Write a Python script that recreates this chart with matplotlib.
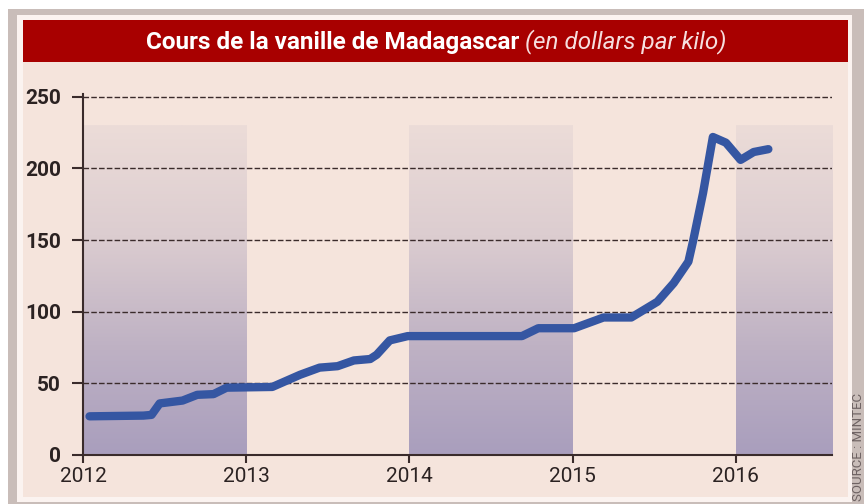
import matplotlib
matplotlib.use("Agg")
import matplotlib.pyplot as plt
import numpy as np
from matplotlib.patches import Rectangle
from matplotlib.colors import LinearSegmentedColormap

# données (année décimale, dollars/kg)
dates = [2012.04, 2012.37, 2012.42, 2012.47, 2012.61, 2012.70, 2012.80, 2012.88,
         2013.16, 2013.33, 2013.45, 2013.56, 2013.66, 2013.76, 2013.80, 2013.88,
         2013.99, 2014.69, 2014.79, 2015.01, 2015.19, 2015.36, 2015.52, 2015.62,
         2015.71, 2015.74, 2015.80, 2015.86, 2015.94, 2016.03, 2016.11, 2016.20]
prix = [27, 27.5, 28, 36, 38, 42, 42.5, 47,
        47.5, 56, 61, 62, 66, 67, 70, 80,
        83, 83, 88.5, 88.5, 96, 96, 107, 120,
        135, 150, 183, 222, 218, 206, 211.5, 213.5]

annees = [2012, 2013, 2014, 2015, 2016]
yticks = [0, 50, 100, 150, 200, 250]
bandes = [(2012, 2013), (2014, 2015), (2016, 2016.59)]

W, H = 864, 504
fond = "#f5e4dc"
brun = "#3a2b2b"
fonts = ["Roboto", "DejaVu Sans"]

fig = plt.figure(figsize=(W / 100, H / 100), dpi=100, facecolor="white")


def px(x, y, w, h):
    # rectangle en pixels (origine en haut à gauche) -> coordonnées figure
    return (x / W, 1 - (y + h) / H), w / W, h / H


for (x, y, w, h, c) in [(8, 9, 856, 495, "#c9bdb9"),
                        (17, 15, 835, 487, "#fbf3f0"),
                        (23, 20, 825, 477, fond),
                        (23, 20, 825, 42, "#a80000")]:
    xy, ww, hh = px(x, y, w, h)
    fig.patches.append(Rectangle(xy, ww, hh, transform=fig.transFigure,
                                 facecolor=c, edgecolor="none", zorder=-10))

# titre
t1 = fig.text(137 / W, 1 - 42 / H, "Cours de la vanille de Madagascar",
              color="white", fontsize=17.5, fontweight="bold", family=fonts,
              ha="left", va="center")
t2 = fig.text(0.5, 1 - 42 / H, " (en dollars par kilo)", color="#f6dede",
              fontsize=17.5, fontstyle="italic", family=fonts,
              ha="left", va="center")

ax = fig.add_axes([83 / W, 1 - 455 / H, (832 - 83) / W, (455 - 94) / H])
ax.set_facecolor("none")
ax.set_xlim(2012, 2016.59)
ax.set_ylim(0, 252)

cmap = LinearSegmentedColormap.from_list("bande", ["#a99ebd", "#bfb2c4", "#dccdd0", "#ecdcd8"])
grad = np.linspace(0, 1, 256).reshape(-1, 1)
for a, b in bandes:
    ax.imshow(grad, cmap=cmap, origin="lower", aspect="auto",
              extent=(a, b, 0, 230), zorder=0)

for v in yticks[1:]:
    ax.axhline(v, color=brun, lw=1, ls=(0, (4, 1.6)), zorder=1)

ax.plot(dates, prix, color="#3556a2", lw=6, solid_capstyle="round",
        solid_joinstyle="round", zorder=3)

for s in ["top", "right"]:
    ax.spines[s].set_visible(False)
for s in ["left", "bottom"]:
    ax.spines[s].set_color(brun)
    ax.spines[s].set_linewidth(1.5)

ax.set_xticks(annees)
ax.set_yticks(yticks)
ax.tick_params(axis="y", length=8, width=1.5, color=brun, pad=8)
ax.tick_params(axis="x", length=6, width=1.5, color=brun, pad=3)
for lab in ax.get_yticklabels():
    lab.set_fontfamily(fonts)
    lab.set_fontweight("bold")
    lab.set_fontsize(15)
    lab.set_color("#2b2222")
for lab in ax.get_xticklabels():
    lab.set_fontfamily(fonts)
    lab.set_fontsize(15)
    lab.set_color("#2b2222")

fig.text(858 / W, 1 - 501 / H, "SOURCE : MINTEC", rotation=90, color="#6e6262",
         fontsize=9.5, family=fonts, ha="center", va="bottom")

# centre le titre + sous-titre autour de x = 436 px
fig.canvas.draw()
w1 = t1.get_window_extent().width
w2 = t2.get_window_extent().width
x0 = 436 - (w1 + w2) / 2
t1.set_x(x0 / W)
t2.set_x((x0 + w1) / W)

fig.savefig("out.png", dpi=100, facecolor=fig.get_facecolor())
